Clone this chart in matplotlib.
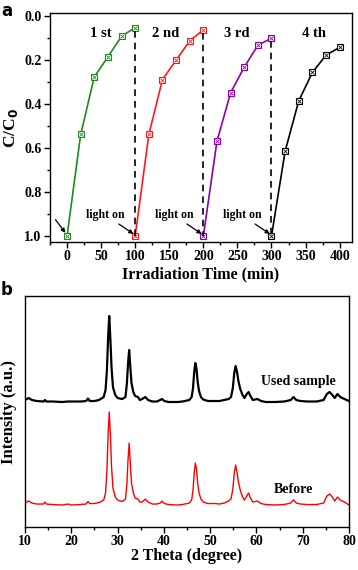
import numpy as np
import matplotlib
matplotlib.use('Agg')
import matplotlib.pyplot as plt
from matplotlib.ticker import MultipleLocator

plt.rcParams['font.family'] = ['Liberation Serif', 'DejaVu Serif']
plt.rcParams['font.weight'] = 'bold'

# panel a: photocatalytic cycles
t1 = [0, 20, 40, 60, 80, 100]
c1 = [1.0, 0.538, 0.276, 0.185, 0.091, 0.052]
t2 = [100, 120, 140, 160, 180, 200]
c2 = [1.0, 0.538, 0.288, 0.200, 0.112, 0.062]
t3 = [200, 220, 240, 260, 280, 300]
c3 = [1.0, 0.568, 0.348, 0.232, 0.132, 0.100]
t4 = [300, 320, 340, 360, 380, 400]
c4 = [1.0, 0.614, 0.385, 0.256, 0.177, 0.142]
cycle_names = ['1 st', '2 nd', '3 rd', '4 th']
cycle_colors = ['#1e8c1e', '#ff1a1a', '#8c00a8', 'black']
name_x = [49, 145, 249, 363]

# panel b: XRD patterns (relative intensity above baseline)
two_theta = [10, 10.8, 11.5, 12.5, 14.0, 14.3, 14.6, 16, 18, 19.3, 20, 22, 23.2, 23.6, 24.0,
             25, 26, 27, 27.4, 27.7, 27.95, 28.2, 28.45, 28.7, 29.0, 29.5, 30,
             31, 31.7, 32.0, 32.25, 32.5, 32.75, 33.0, 33.4, 33.8, 34.4, 34.8,
             35.3, 36.0, 36.6, 37.5, 38.5, 39.2, 39.6, 40.1, 41, 43, 44, 45.5,
             46.0, 46.3, 46.55, 46.8, 47.05, 47.3, 47.6, 48.0, 48.5, 49.5, 51, 52,
             53, 54, 54.5, 54.9, 55.2, 55.5, 55.8, 56.1, 56.5, 57.0, 57.4,
             57.9, 58.3, 58.7, 59.2, 60.2, 61, 62, 64, 66, 67.4, 68.0, 68.6, 69.5,
             71, 73, 74.5, 75.2, 75.8, 76.4, 76.9, 77.5, 78.1, 79, 80]
before = [2, 4, 2, 1, 1, 3, 1, 0.5, 0, 1, 0, 0.5, 1, 3.5, 1.5,
          1.5, 2.5, 5, 12, 35, 70, 93, 70, 38, 17, 8, 5,
          3.5, 6, 20, 45, 62, 42, 22, 12, 7, 6, 3,
          3, 6, 3, 1, 1, 2, 4, 1.5, 0.5, 0, 0.5, 2,
          5, 15, 32, 42, 36, 22, 12, 6, 3, 1.5, 1.5, 1,
          2, 4, 6, 16, 32, 40, 33, 23, 15, 8, 5,
          9, 12, 7, 3, 4, 1.5, 0.5, 0, 0.5, 2, 5, 2, 1,
          0.5, 0.5, 2, 9, 11, 8, 4, 8, 5, 3, 0]
used = [2, 4, 2, 1, 0.5, 2, 0.5, 0.5, 0, 0.5, 0.5, 0.5, 1, 3.5, 1,
        1, 2, 5, 12, 32, 64, 86, 62, 34, 15, 7, 4,
        3, 5, 18, 38, 52, 35, 19, 10, 6, 5, 2,
        3, 5, 2, 0.5, 0.5, 2, 3, 1, 0, 0, 0.5, 2,
        5, 14, 30, 39, 33, 20, 11, 5, 2.5, 1, 1, 1,
        2, 3, 5, 14, 29, 36, 30, 21, 13, 7, 4,
        8, 10, 6, 2, 3, 1, 0, 0, 0.5, 2, 5, 2, 1,
        0.5, 0.5, 2, 8, 10, 7, 4, 8, 5, 3, 1]

fig = plt.figure(figsize=(3.58, 5.70), dpi=100)
ax1 = fig.add_axes([0.1397, 0.5754, 0.8433, 0.4016])
ax2 = fig.add_axes([0.0698, 0.0754, 0.9052, 0.4053])

for t, c, col in zip([t1, t2, t3, t4], [c1, c2, c3, c4], cycle_colors):
    ax1.plot(t, c, color=col, lw=1.2, marker='s', ms=4.5, mfc='white', mec=col, mew=0.8)
    ax1.plot(t, c, ls='none', marker='x', ms=3.0, mec=col, mew=0.6)

for t, c in zip([t1, t2, t3], [c1, c2, c3]):
    ax1.vlines(t[-1], c[-1] + 0.015, 1.0, colors='k', linestyles=(0, (4, 3)), lw=1.2)

for name, x in zip(cycle_names, name_x):
    ax1.text(x, 0.08, name, ha='center', va='center', fontsize=10.5, fontweight='bold')

ax1.annotate('', xy=(-2.5, 0.985), xytext=(-17, 0.925),
             arrowprops=dict(arrowstyle='-|>', color='k', lw=0.9, mutation_scale=6,
                             shrinkA=0, shrinkB=0))
for x in [100, 200, 300]:
    ax1.annotate('light on', xy=(x - 2.5, 0.99), xytext=(x - 15, 0.905),
                 ha='right', va='center', fontsize=8.5, fontweight='bold',
                 arrowprops=dict(arrowstyle='-|>', color='k', lw=0.9, mutation_scale=6,
                                 shrinkA=0, shrinkB=0))

ax1.set_xlim(-25, 418)
ax1.set_ylim(1.027, -0.014)
ax1.xaxis.set_major_locator(MultipleLocator(50))
ax1.xaxis.set_minor_locator(MultipleLocator(25))
ax1.yaxis.set_major_locator(MultipleLocator(0.2))
ax1.yaxis.set_minor_locator(MultipleLocator(0.1))
ax1.yaxis.set_major_formatter(matplotlib.ticker.FormatStrFormatter('%.1f'))
ax1.set_xlabel('Irradiation Time (min)', fontsize=11.5, fontweight='bold', labelpad=2)
ax1.set_ylabel('C/C$_\\mathbf{0}$', fontsize=12.5, fontweight='bold', labelpad=3)

# panel b
tt = np.array(two_theta)
ax2.plot(tt, np.array(used) + 125, color='k', lw=1.6)
ax2.plot(tt, np.array(before) + 22, color='#ff0000', lw=1.0)
ax2.text(69, 146, 'Used sample', ha='center', va='center', fontsize=10, fontweight='bold')
ax2.text(67.9, 38, 'Before', ha='center', va='center', fontsize=10, fontweight='bold')
ax2.set_xlim(10, 80)
ax2.set_ylim(0, 231)
ax2.set_yticks([])
ax2.xaxis.set_major_locator(MultipleLocator(10))
ax2.xaxis.set_minor_locator(MultipleLocator(5))
ax2.set_xlabel('2 Theta (degree)', fontsize=11.5, fontweight='bold', labelpad=0)
ax2.set_ylabel('Intensity (a.u.)', fontsize=12, fontweight='bold', labelpad=6)

for ax in (ax1, ax2):
    ax.tick_params(which='major', length=4, width=1, labelsize=10, pad=2)
    ax.tick_params(which='minor', length=2.5, width=1)
    for lab in ax.get_xticklabels() + ax.get_yticklabels():
        lab.set_fontweight('bold')
    for sp in ax.spines.values():
        sp.set_linewidth(1.0)

fig.text(0.003, 0.997, 'a', ha='left', va='top', fontsize=12, fontweight='bold', family='DejaVu Sans')
fig.text(0.003, 0.507, 'b', ha='left', va='top', fontsize=12, fontweight='bold', family='DejaVu Sans')

fig.savefig('out.png', dpi=100)
